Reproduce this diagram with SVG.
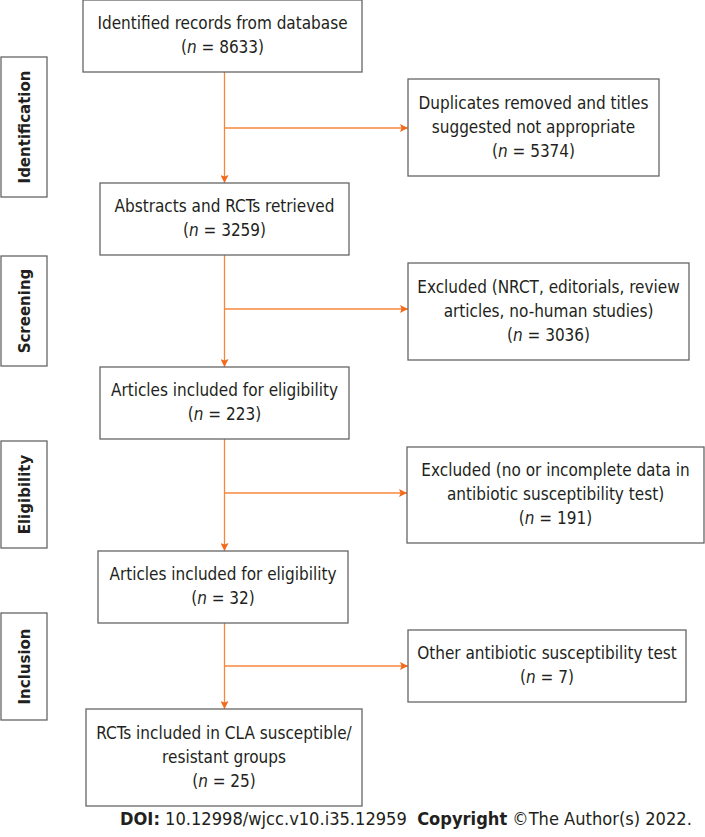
<svg xmlns="http://www.w3.org/2000/svg" width="705" height="837" viewBox="0 0 705 837">
<defs>
<style>
.box{fill:#fff;stroke:#666;stroke-width:1.3}
.t{font-family:"DejaVu Sans Condensed","DejaVu Sans",sans-serif;font-stretch:condensed;font-size:17px;fill:#231f20;text-anchor:middle}
.lab{font-family:"DejaVu Sans","Liberation Sans",sans-serif;font-weight:bold;font-size:15px;fill:#231f20;text-anchor:middle}
.c{fill:none;stroke:#f7873a;stroke-width:1.3}
.foot{font-family:"DejaVu Sans Condensed","DejaVu Sans",sans-serif;font-stretch:condensed;font-size:18.1px;fill:#231f20}
</style>
<marker id="ah" viewBox="0 0 10 10" refX="10" refY="5" markerWidth="8" markerHeight="8" markerUnits="userSpaceOnUse" orient="auto">
<path d="M0,0 L10,5 L0,10 L2,5 z" fill="#f26b1d"/>
</marker>
</defs>
<rect width="705" height="837" fill="#fff"/>
<g id="connectors">
<path class="c" d="M224.5,72 V183" marker-end="url(#ah)"/>
<path class="c" d="M224.5,128 H408" marker-end="url(#ah)"/>
<path class="c" d="M224.5,255 V367" marker-end="url(#ah)"/>
<path class="c" d="M224.5,309 H408" marker-end="url(#ah)"/>
<path class="c" d="M224.5,439 V551" marker-end="url(#ah)"/>
<path class="c" d="M224.5,493 H407" marker-end="url(#ah)"/>
<path class="c" d="M224.5,623 V709" marker-end="url(#ah)"/>
<path class="c" d="M224.5,666 H408" marker-end="url(#ah)"/>
</g>
<g id="label-identification"><rect class="box" x="1" y="57" width="46" height="140"/><text class="lab" transform="translate(30,127) rotate(-90)">Identification</text></g>
<g id="label-screening"><rect class="box" x="1" y="256" width="46" height="110"/><text class="lab" transform="translate(30,311) rotate(-90)">Screening</text></g>
<g id="label-eligibility"><rect class="box" x="1" y="441" width="46" height="107"/><text class="lab" transform="translate(30,494.5) rotate(-90)">Eligibility</text></g>
<g id="label-inclusion"><rect class="box" x="1" y="613" width="46" height="107"/><text class="lab" transform="translate(30,666.5) rotate(-90)">Inclusion</text></g>
<g id="n1"><rect class="box" x="83" y="0" width="279" height="72"/><text class="t" x="222.5" y="29">Identified records from database</text><text class="t" x="222.5" y="53">(<tspan font-style="italic">n</tspan> = 8633)</text></g>
<g id="n2"><rect class="box" x="408" y="79" width="251" height="97"/><text class="t" x="533.5" y="108.5">Duplicates removed and titles</text><text class="t" x="533.5" y="132.5">suggested not appropriate</text><text class="t" x="533.5" y="156.5">(<tspan font-style="italic">n</tspan> = 5374)</text></g>
<g id="n3"><rect class="box" x="100" y="183" width="249" height="72"/><text class="t" x="224.5" y="212">Abstracts and RCTs retrieved</text><text class="t" x="224.5" y="236">(<tspan font-style="italic">n</tspan> = 3259)</text></g>
<g id="n4"><rect class="box" x="408" y="263" width="281" height="97"/><text class="t" x="548.5" y="292.5">Excluded (NRCT, editorials, review</text><text class="t" x="548.5" y="316.5">articles, no-human studies)</text><text class="t" x="548.5" y="340.5">(<tspan font-style="italic">n</tspan> = 3036)</text></g>
<g id="n5"><rect class="box" x="100" y="367" width="249" height="72"/><text class="t" x="224.5" y="396">Articles included for eligibility</text><text class="t" x="224.5" y="420">(<tspan font-style="italic">n</tspan> = 223)</text></g>
<g id="n6"><rect class="box" x="407" y="447" width="297" height="96"/><text class="t" x="555.5" y="476">Excluded (no or incomplete data in</text><text class="t" x="555.5" y="500">antibiotic susceptibility test)</text><text class="t" x="555.5" y="524">(<tspan font-style="italic">n</tspan> = 191)</text></g>
<g id="n7"><rect class="box" x="98" y="551" width="250" height="72"/><text class="t" x="223" y="580">Articles included for eligibility</text><text class="t" x="223" y="604">(<tspan font-style="italic">n</tspan> = 32)</text></g>
<g id="n8"><rect class="box" x="408" y="630" width="278" height="72"/><text class="t" x="547" y="659">Other antibiotic susceptibility test</text><text class="t" x="547" y="683">(<tspan font-style="italic">n</tspan> = 7)</text></g>
<g id="n9"><rect class="box" x="86" y="709" width="276" height="97"/><text class="t" x="224" y="738.5">RCTs included in CLA susceptible/</text><text class="t" x="224" y="762.5">resistant groups</text><text class="t" x="224" y="786.5">(<tspan font-style="italic">n</tspan> = 25)</text></g>
<text class="foot" x="120" y="825" xml:space="preserve"><tspan font-weight="bold">DOI:</tspan> 10.12998/wjcc.v10.i35.12959  <tspan font-weight="bold">Copyright</tspan> ©The Author(s) 2022.</text>
</svg>
